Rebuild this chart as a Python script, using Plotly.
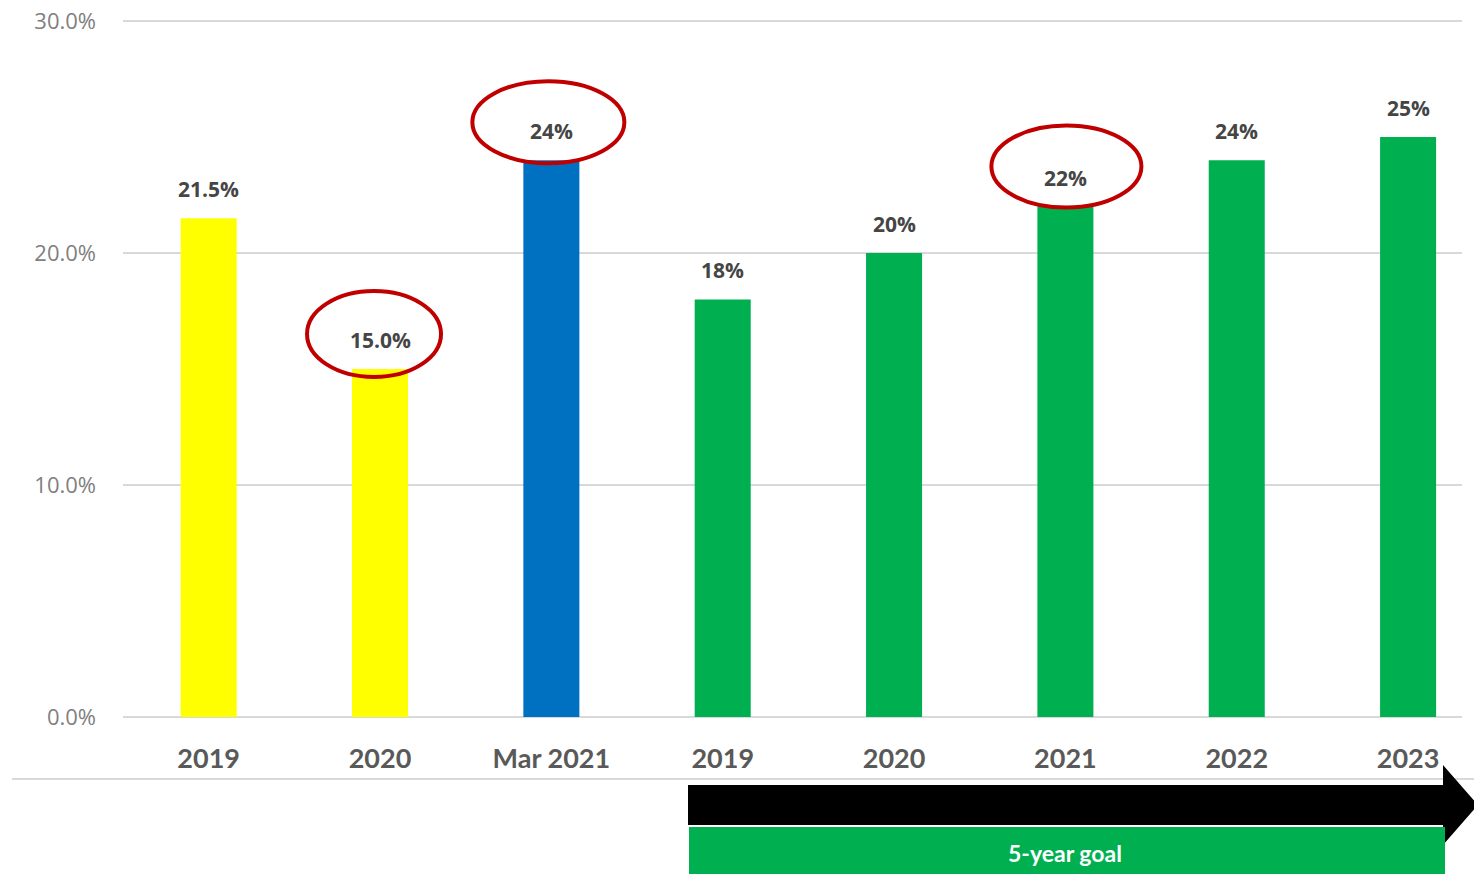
import plotly.graph_objects as go

categories = ["2019", "2020", "Mar 2021", "2019", "2020", "2021", "2022", "2023"]
values = [0.215, 0.150, 0.24, 0.18, 0.20, 0.22, 0.24, 0.25]
labels = ["21.5%", "15.0%", "24%", "18%", "20%", "22%", "24%", "25%"]
colors = ["#FFFF00", "#FFFF00", "#0070C0", "#00B050", "#00B050", "#00B050", "#00B050", "#00B050"]
circled = [1, 2, 5]
y_ticks = [0, 0.1, 0.2, 0.3]
y_ticktext = ["0.0%", "10.0%", "20.0%", "30.0%"]
goal_text = "5-year goal"

W, H = 1474, 874
L, R, T, B = 123, 12, 19, 157
pw, ph = W - L - R, H - T - B
y_top = 0.30 * ph / 696.0  # 0.30 sits at pixel row 21


def px(x):
    return (x - L) / pw


def py(y):
    return (H - B - y) / ph


xs = list(range(len(categories)))

fig = go.Figure()
fig.add_trace(go.Bar(
    x=xs, y=values, marker=dict(color=colors, line=dict(width=0)),
    width=0.327, hoverinfo="skip",
))

for i, (v, t) in enumerate(zip(values, labels)):
    fig.add_annotation(
        x=i, y=v, text=f"<b>{t}</b>", showarrow=False, yanchor="middle",
        yshift=29, font=dict(family="Open Sans, sans-serif", size=21, color="#454545"),
    )

ell = {1: (-73, 61, -8, 78), 2: (-79, 73, -3, 79), 5: (-74, 76, -1, 81)}
for i in circled:
    x0, x1, y0, y1 = ell[i]
    fig.add_shape(
        type="circle", xref="x", yref="y", xsizemode="pixel", ysizemode="pixel",
        xanchor=i, yanchor=values[i], x0=x0, x1=x1, y0=y0, y1=y1,
        line=dict(color="#C00000", width=4), layer="above",
    )

# separator line
fig.add_shape(type="line", xref="paper", yref="paper",
              x0=px(12), x1=px(1474), y0=py(779), y1=py(779),
              line=dict(color="#D9D9D9", width=2))

# black arrow
path = (f"M {px(688)} {py(785)} L {px(1443)} {py(785)} L {px(1443)} {py(765)} "
        f"L {px(1478)} {py(805)} L {px(1443)} {py(845)} L {px(1443)} {py(825)} "
        f"L {px(688)} {py(825)} Z")
fig.add_shape(type="path", xref="paper", yref="paper", path=path,
              fillcolor="#000000", line=dict(width=0))

# green goal box
fig.add_shape(type="rect", xref="paper", yref="paper",
              x0=px(689), x1=px(1445), y0=py(827), y1=py(876),
              fillcolor="#00B050", line=dict(width=0))
fig.add_annotation(xref="paper", yref="paper", x=px(1065), y=py(853),
                   yanchor="middle", xanchor="center",
                   text=f"<b>{goal_text}</b>", showarrow=False,
                   font=dict(family="Lato, Open Sans, sans-serif", size=23, color="#FFFFFF"))

fig.update_layout(
    width=W, height=H,
    margin=dict(l=L, r=R, t=T, b=B, autoexpand=False),
    plot_bgcolor="#FFFFFF", paper_bgcolor="#FFFFFF",
    showlegend=False,
    xaxis=dict(
        range=[-0.5, (1462 - 209) / 171.3], tickmode="array", tickvals=xs,
        ticktext=[f"<b>{c}</b>" for c in categories],
        tickfont=dict(family="Lato, Open Sans, sans-serif", size=27, color="#595959"),
        showgrid=False, zeroline=False, showline=False, ticks="",
        ticklabelstandoff=23, automargin=False,
    ),
    yaxis=dict(
        range=[0, y_top], tickmode="array", tickvals=y_ticks, ticktext=y_ticktext,
        tickfont=dict(family="Open Sans, sans-serif", size=22, color="#7F7F7F"),
        showgrid=True, gridcolor="#D9D9D9", gridwidth=1.5,
        zeroline=True, zerolinecolor="#D9D9D9", zerolinewidth=1.5,
        showline=False, ticks="", ticklabelstandoff=26, automargin=False,
    ),
)

fig.write_html("out.html", config={"displayModeBar": False},
               post_script="document.body.style.margin='0';document.body.style.overflow='hidden';")
